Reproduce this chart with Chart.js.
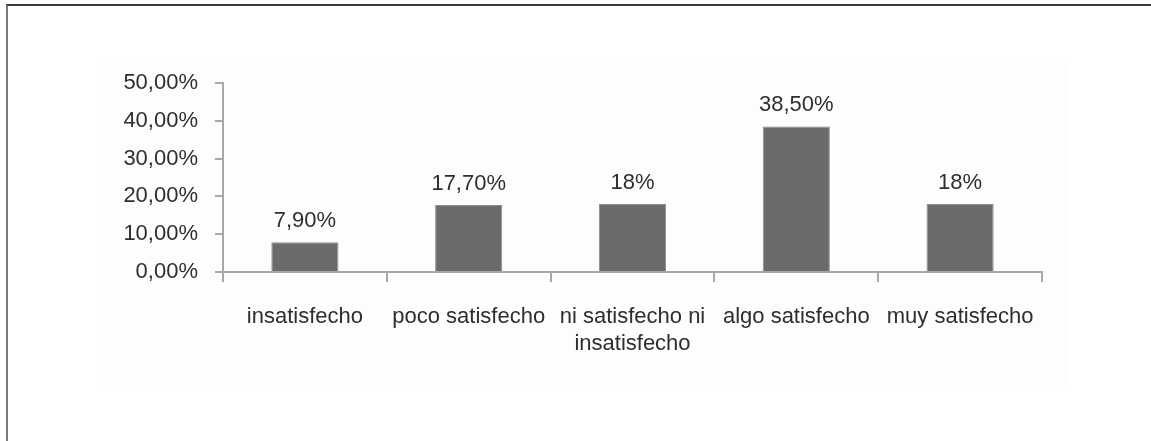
<!DOCTYPE html>
<html>
<head>
<meta charset="utf-8">
<script src="https://cdn.jsdelivr.net/npm/chart.js@4/dist/chart.umd.min.js"></script>
<style>
    html, body {
        margin: 0px;
        background-color: #ffffff;
    }
    #frame {
        position: absolute;
        left: 6px;
        top: 4px;
        width: 1145px;
        height: 437px;
        border-top: 2px solid #3a3a3a;
        border-left: 2px solid #7a7a7a;
    }
    #panel {
        position: absolute;
        left: 97px;
        top: 58px;
        width: 971px;
        height: 332px;
        background-color: #fdfdfd;
    }
    #chartContainer {
        position: absolute;
        left: 0px;
        top: 0px;
        width: 1151px;
        height: 441px;
    }
</style>
</head>
<body>
    <div id="frame"></div>
    <div id="panel"></div>
    <div id="chartContainer">
        <canvas id="mainChart"></canvas>
    </div>
<script>
    // satisfaction levels and share of answers (%)
    var categories = [
        "insatisfecho",
        "poco satisfecho",
        ["ni satisfecho ni", "insatisfecho"],
        "algo satisfecho",
        "muy satisfecho"
    ];
    var percentages = [7.9, 17.7, 18, 38.5, 18];
    var yTicks = [0, 10, 20, 30, 40, 50];

    var textColor = '#2e2e2e';
    var fontFamily = "'Liberation Sans', Arial, sans-serif";
    var fontSize = 22;

    function valueText(v) {
        if (Number.isInteger(v)) return v + "%";
        return v.toFixed(2).replace('.', ',') + "%";
    }

    // writes the value above each bar
    var barLabels = {
        id: 'barLabels',
        afterDatasetsDraw: function(chart) {
            var ctx = chart.ctx;
            var meta = chart.getDatasetMeta(0);
            ctx.save();
            ctx.font = fontSize + "px " + fontFamily;
            ctx.fillStyle = textColor;
            ctx.textAlign = 'center';
            ctx.textBaseline = 'alphabetic';
            meta.data.forEach(function(bar, i) {
                ctx.fillText(valueText(percentages[i]), bar.x, bar.y - 15);
            });
            ctx.restore();
        }
    };

    var ctx = document.getElementById('mainChart').getContext('2d');
    var chart = new Chart(ctx, {
        type: 'bar',
        data: {
            labels: categories,
            datasets: [{
                data: percentages,
                backgroundColor: '#6b6b6b',
                borderColor: '#8e8e8e',
                borderWidth: 1,
                categoryPercentage: 1.0,
                barPercentage: 0.41
            }]
        },
        options: {
            responsive: true,
            maintainAspectRatio: false,
            animation: false,
            layout: {
                padding: { left: 0, top: 83, right: 109, bottom: 0 }
            },
            plugins: {
                legend: { display: false },
                tooltip: { enabled: false }
            },
            scales: {
                x: {
                    afterFit: function(scale) { scale.height = 169; },
                    grid: {
                        offset: true,
                        drawOnChartArea: false,
                        drawTicks: true,
                        tickLength: 10,
                        color: '#a8a8a8',
                        lineWidth: 2
                    },
                    border: { color: '#a8a8a8', width: 2 },
                    ticks: {
                        autoSkip: false,
                        maxRotation: 0,
                        minRotation: 0,
                        padding: 21,
                        color: textColor,
                        font: { family: fontFamily, size: fontSize, lineHeight: 1.25 }
                    }
                },
                y: {
                    min: 0,
                    max: 50,
                    afterFit: function(scale) { scale.width = 223; },
                    afterBuildTicks: function(scale) {
                        scale.ticks = yTicks.map(function(v) { return { value: v }; });
                    },
                    grid: {
                        drawOnChartArea: false,
                        drawTicks: true,
                        tickLength: 8,
                        color: '#a8a8a8',
                        lineWidth: 2
                    },
                    border: { color: '#a8a8a8', width: 2 },
                    ticks: {
                        padding: 17,
                        color: textColor,
                        font: { family: fontFamily, size: fontSize },
                        callback: function(value) {
                            return value.toFixed(2).replace('.', ',') + "%";
                        }
                    }
                }
            }
        },
        plugins: [barLabels]
    });
</script>
</body>
</html>
